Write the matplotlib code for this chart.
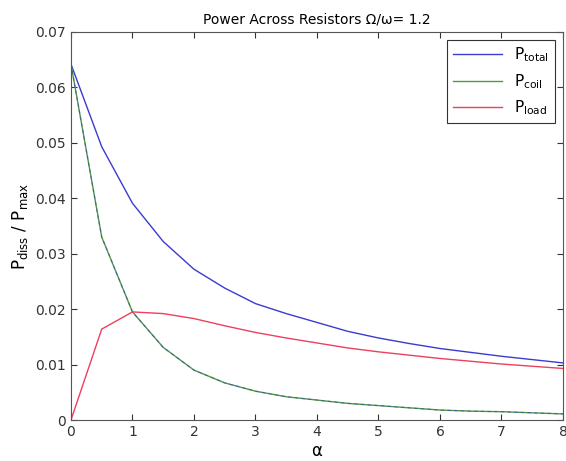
import matplotlib.pyplot as plt

# valores
alpha = [0, 0.5, 1, 1.5, 2, 2.5, 3, 3.5, 4, 4.5, 5, 5.5, 6, 6.5, 7, 7.5, 8]
p_total = [0.0642, 0.0493, 0.0391, 0.0322, 0.0272, 0.0238, 0.0210, 0.0192, 0.0176,
           0.0160, 0.0148, 0.0138, 0.0129, 0.0122, 0.0115, 0.0109, 0.0103]
p_coil = [0.0642, 0.0330, 0.0195, 0.0131, 0.0090, 0.0067, 0.0052, 0.0042, 0.0036,
          0.0030, 0.0026, 0.0022, 0.0018, 0.0016, 0.0015, 0.0013, 0.0011]
p_load = [0.0, 0.0164, 0.0195, 0.0192, 0.0183, 0.0170, 0.0158, 0.0148, 0.0139,
          0.0130, 0.0123, 0.0117, 0.0111, 0.0106, 0.0101, 0.0097, 0.0093]
series_labels = ['$\\mathregular{P_{total}}$', '$\\mathregular{P_{coil}}$', '$\\mathregular{P_{load}}$']

plt.rcParams['font.family'] = 'DejaVu Sans'
plt.rcParams['mathtext.default'] = 'regular'

fig = plt.figure(figsize=(5.66, 4.61), dpi=100)
ax = fig.add_axes([0.1254, 0.0889, 0.8693, 0.8417])

ax.plot(alpha, p_total, color='#3b3bd0', lw=1.0, label=series_labels[0])
ax.plot(alpha, p_coil, color='#4f9a3c', lw=1.0, label=series_labels[1])
# linea azul discontinua encima de P_coil, como en el original
ax.plot(alpha, p_coil, color='#3b3bd0', lw=0.8, ls=(0, (3, 3)), alpha=0.6)
ax.plot(alpha, p_load, color='#ee3f5c', lw=1.0, label=series_labels[2])

ax.set_xlim(0, 8)
ax.set_ylim(0, 0.07)
ax.set_xticks(range(0, 9))
ax.set_yticks([0, 0.01, 0.02, 0.03, 0.04, 0.05, 0.06, 0.07])
ax.set_yticklabels(['0', '0.01', '0.02', '0.03', '0.04', '0.05', '0.06', '0.07'])
ax.tick_params(direction='in', top=True, right=True, labelsize=10, length=4, colors='#333333')
for s in ax.spines.values():
    s.set_color('#555555')

ax.set_title('Power Across Resistors Ω/ω= 1.2', fontsize=10, pad=6)
ax.set_xlabel('α', fontsize=12, labelpad=2)
ax.set_ylabel('$\\mathregular{P_{diss}\\ /\\ P_{max}}$', fontsize=12, labelpad=4)

leg = ax.legend(loc='upper right', fontsize=11, fancybox=False, framealpha=1,
                edgecolor='#333333', handlelength=3.2, borderaxespad=0.5)
leg.get_frame().set_linewidth(0.8)

fig.savefig('out.png', dpi=100)
